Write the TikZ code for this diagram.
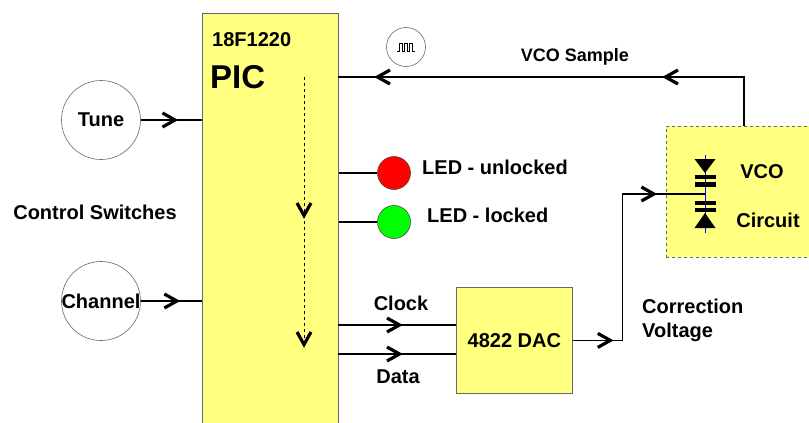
\documentclass[tikz,border=0pt]{standalone}
\usepackage{fontspec}
\setmainfont{Liberation Sans}
\usetikzlibrary{decorations.markings}
\definecolor{chipyellow}{RGB}{255,255,128}
\definecolor{ledred}{RGB}{255,0,0}
\definecolor{ledgreen}{RGB}{0,255,0}
% open chevron drawn at a marking
\newcommand{\chevron}{\draw[solid, line width=3.2pt, line join=miter] (-15pt,-7pt) -- (-2.5pt,0pt) -- (-15pt,7pt);}
\tikzset{
	lbl/.style = {font=\fontsize{20}{24}\selectfont\bfseries, inner sep=0pt},
	chip/.style = {draw=black!60, fill=chipyellow, line width=0.8pt, inner sep=0pt},
	switchnode/.style = {draw=black!60, fill=white, circle, minimum size=79pt, inner sep=0pt, line width=0.6pt},
	led/.style = {draw=black!70, circle, minimum size=33pt, inner sep=0pt, line width=0.6pt},
	sig/.style = {line width=1.1pt, postaction={decorate},
		decoration={markings, mark=at position #1 with {\chevron}}}
}
\begin{document}
\begin{tikzpicture}[x=1pt, y=-1pt]
		\useasboundingbox (0,0) rectangle (809,423);
		\clip (0,0) rectangle (809,423);
		%
		\node[chip, anchor=north west, minimum width=136pt, minimum height=430pt] (pic) at (202,13) {};
		\node[lbl, anchor=west] (picpart) at (212,40) {18F1220};
		\node[lbl, anchor=west, font=\fontsize{33}{36}\selectfont\bfseries] (picname) at (210,77) {PIC};
		\draw[dashed, line width=0.8pt, postaction={decorate},
			decoration={markings, mark=at position 141pt with {\chevron}, mark=at position 270pt with {\chevron}}] (304,77) -- (304,347);
		%
		\node[switchnode, label={[lbl]center:Tune}] (tune) at (101,120) {};
		\node[switchnode, label={[lbl]center:Channel}] (channel) at (101,301) {};
		\node[lbl] (switches) at (95,212) {Control Switches};
		\draw[sig=0.6] (tune) -- (pic.west |- tune);
		\draw[sig=0.63] (channel) -- (pic.west |- channel);
		%
		\node[led, fill=ledred] (unlocked) at (394,173) {};
		\node[led, fill=ledgreen] (locked) at (394,222) {};
		\node[lbl, anchor=west] (unlockedtxt) at (422,167) {LED - unlocked};
		\node[lbl, anchor=west] (lockedtxt) at (427,215) {LED - locked};
		\draw[line width=1.1pt] (pic.east |- unlocked) -- (unlocked);
		\draw[line width=1.1pt] (pic.east |- locked) -- (locked);
		%
		\node[chip, anchor=north west, minimum width=116pt, minimum height=106pt, lbl] (dac) at (456,287) {4822 DAC};
		\coordinate (clk) at (338,325);
		\coordinate (dat) at (338,354);
		\node[lbl] (clocktxt) at (401,303) {Clock};
		\node[lbl] (datatxt) at (398,377) {Data};
		\draw[sig=64pt] (clk) -- (dac.west |- clk);
		\draw[sig=64pt] (dat) -- (dac.west |- dat);
		%
		\node[chip, dashed, anchor=north west, minimum width=164pt, minimum height=131pt] (vco) at (666,126) {};
		\node[lbl] (vcotxt) at (762,172) {VCO};
		\node[lbl] (circuittxt) at (768,220) {Circuit};
		\node[lbl, anchor=west, align=left] (corr) at (642,320) {Correction\\Voltage};
		\coordinate (varin) at (705,194);
		\coordinate (vcotap) at (744,126);
		\coordinate (picin) at (338,77);
		\draw[line width=1.1pt, postaction={decorate},
			decoration={markings, mark=at position 40pt with {\chevron}, mark=at position 230pt with {\chevron}}]
			(dac.east) -- ++(50,0) |- (varin);
		\draw[line width=1.1pt, postaction={decorate},
			decoration={markings, mark=at position 130pt with {\chevron}, mark=at position 418pt with {\chevron}}]
			(vcotap) |- (picin);
		\node[font=\fontsize{18}{22}\selectfont\bfseries, inner sep=0pt] (sampletxt) at (575,57) {VCO Sample};
		%
		% varactor pair
		\draw[blue, line width=0.6pt] (705,155) -- (705,233);
		\fill[black] (694.5,159) -- (715.5,159) -- (705,173) -- cycle;
		\fill[black] (694.5,175) rectangle (715.5,179);
		\fill[black] (694.5,182) rectangle (715.5,187);
		\fill[black] (694.5,201) rectangle (715.5,205);
		\fill[black] (694.5,208) rectangle (715.5,212);
		\fill[black] (705,213) -- (694.5,228) -- (715.5,228) -- cycle;
		%
		% pulse symbol
		\node[draw=black!60, circle, minimum size=39pt, inner sep=0pt, line width=0.6pt] (pulse) at (406,47) {};
		\draw[line width=0.9pt] (397,51) -- (399,51) -- (399,43) -- (402,43) -- (402,51) -- (404,51) -- (404,43) -- (407,43)
			-- (407,51) -- (409,51) -- (409,43) -- (412,43) -- (412,51) -- (415,51);
		%
\end{tikzpicture}
\end{document}
